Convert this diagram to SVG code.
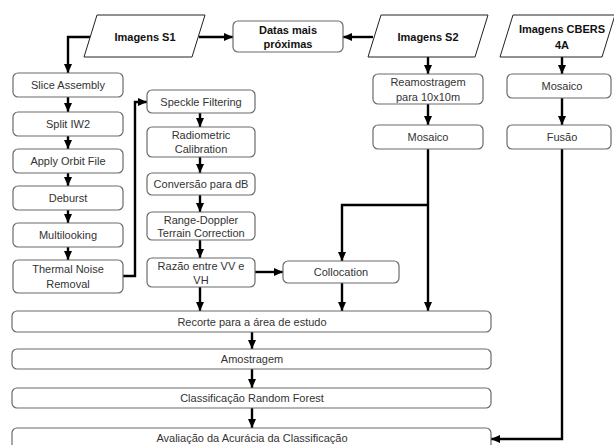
<svg xmlns="http://www.w3.org/2000/svg" width="614" height="445" viewBox="0 0 614 445">
<style>
.box{fill:#fff;stroke:#6b6b6b;stroke-width:1.2}
.io{fill:#fff;stroke:#222;stroke-width:1}
.t{font-family:"Liberation Sans",Arial,sans-serif;font-size:11px;fill:#333;text-anchor:middle;dominant-baseline:central}
.b{font-weight:bold;fill:#111}
.c{fill:none;stroke:#000;stroke-width:2.4;marker-end:url(#ah)}
.cn{fill:none;stroke:#000;stroke-width:2.4}
</style>
<defs>
<marker id="ah" markerUnits="userSpaceOnUse" markerWidth="10" markerHeight="10" viewBox="0 0 10 10" refX="9" refY="5" orient="auto">
<path d="M0,1 L9,5 L0,9 Z" fill="#000"/>
</marker>
</defs>
<rect width="614" height="445" fill="#fff"/>
<g id="connectors">
<path class="c" d="M199,37 H233"/>
<path class="c" d="M90,37 H68 V73"/>
<path class="c" d="M373,37 H343"/>
<path class="c" d="M428,57 V74"/>
<path class="c" d="M428,104 V125"/>
<path class="c" d="M428,149 V311"/>
<path class="c" d="M428,205 H342 V261"/>
<path class="c" d="M342,283 V311"/>
<path class="c" d="M562,57 V74"/>
<path class="c" d="M562,98 V125"/>
<path class="c" d="M562,149 V439 H491"/>
<path class="c" d="M68,97 V112"/>
<path class="c" d="M68,136 V149"/>
<path class="c" d="M68,173 V186"/>
<path class="c" d="M68,210 V223"/>
<path class="c" d="M68,247 V260"/>
<path class="c" d="M123,276 H135 V102 H147"/>
<path class="c" d="M200,113 V127"/>
<path class="c" d="M200,157 V173"/>
<path class="c" d="M200,195 V212"/>
<path class="c" d="M200,240 V258"/>
<path class="c" d="M200,287 V311"/>
<path class="c" d="M255,272 H283"/>
<path class="c" d="M252,332 V349"/>
<path class="c" d="M252,369 V388"/>
<path class="c" d="M252,408 V428"/>
</g>
<g id="s1"><polygon class="io" points="97,15 205,15 192,57 84,57"/><text class="t b" x="145" y="37">Imagens S1</text></g>
<g id="s2"><polygon class="io" points="381,15 488,15 475,57 368,57"/><text class="t b" x="428" y="37">Imagens S2</text></g>
<g id="cbers"><polygon class="io" points="513,15 615,15 602,57 500,57"/><text class="t b" x="562" y="29">Imagens CBERS</text><text class="t b" x="562" y="45">4A</text></g>
<g id="datas"><rect class="box" x="233" y="21" width="110" height="31" rx="5"/><text class="t b" x="288" y="29.5">Datas mais</text><text class="t b" x="288" y="43.5">próximas</text></g>
<g id="slice"><rect class="box" x="13" y="73" width="110" height="24" rx="5"/><text class="t" x="68" y="85">Slice Assembly</text></g>
<g id="split"><rect class="box" x="13" y="112" width="110" height="24" rx="5"/><text class="t" x="68" y="124">Split IW2</text></g>
<g id="orbit"><rect class="box" x="13" y="149" width="110" height="24" rx="5"/><text class="t" x="68" y="161">Apply Orbit File</text></g>
<g id="deburst"><rect class="box" x="13" y="186" width="110" height="24" rx="5"/><text class="t" x="68" y="198">Deburst</text></g>
<g id="multi"><rect class="box" x="13" y="223" width="110" height="24" rx="5"/><text class="t" x="68" y="235">Multilooking</text></g>
<g id="thermal"><rect class="box" x="13" y="260" width="110" height="33" rx="5"/><text class="t" x="68" y="269">Thermal Noise</text><text class="t" x="68" y="284">Removal</text></g>
<g id="speckle"><rect class="box" x="147" y="90" width="108" height="23" rx="5"/><text class="t" x="201" y="101.5">Speckle Filtering</text></g>
<g id="radio"><rect class="box" x="147" y="127" width="108" height="30" rx="5"/><text class="t" x="201" y="135">Radiometric</text><text class="t" x="201" y="149">Calibration</text></g>
<g id="conv"><rect class="box" x="147" y="173" width="108" height="22" rx="5"/><text class="t" x="201" y="184">Conversão para dB</text></g>
<g id="rd"><rect class="box" x="147" y="212" width="108" height="28" rx="5"/><text class="t" x="201" y="219.5">Range-Doppler</text><text class="t" x="201" y="233">Terrain Correction</text></g>
<g id="razao"><rect class="box" x="147" y="258" width="108" height="29" rx="5"/><text class="t" x="201" y="265.5">Razão entre VV e</text><text class="t" x="201" y="280">VH</text></g>
<g id="colloc"><rect class="box" x="283" y="261" width="116" height="22" rx="5"/><text class="t" x="341" y="272">Collocation</text></g>
<g id="ream"><rect class="box" x="373" y="74" width="110" height="30" rx="5"/><text class="t" x="428" y="82">Reamostragem</text><text class="t" x="428" y="96.5">para 10x10m</text></g>
<g id="mos2"><rect class="box" x="373" y="125" width="110" height="24" rx="5"/><text class="t" x="428" y="137">Mosaico</text></g>
<g id="mosc"><rect class="box" x="507" y="74" width="104" height="24" rx="5"/><text class="t" x="562" y="86">Mosaico</text></g>
<g id="fusao"><rect class="box" x="507" y="125" width="104" height="24" rx="5"/><text class="t" x="562" y="137">Fusão</text></g>
<g id="recorte"><rect class="box" x="12" y="311" width="479" height="21" rx="5"/><text class="t" x="252" y="321.5">Recorte para a área de estudo</text></g>
<g id="amostragem"><rect class="box" x="12" y="349" width="479" height="20" rx="5"/><text class="t" x="252" y="359">Amostragem</text></g>
<g id="classif"><rect class="box" x="12" y="388" width="479" height="20" rx="5"/><text class="t" x="252" y="398">Classificação Random Forest</text></g>
<g id="avaliacao"><rect class="box" x="12" y="428" width="479" height="22" rx="5"/><text class="t" x="252" y="438">Avaliação da Acurácia da Classificação</text></g>
</svg>
